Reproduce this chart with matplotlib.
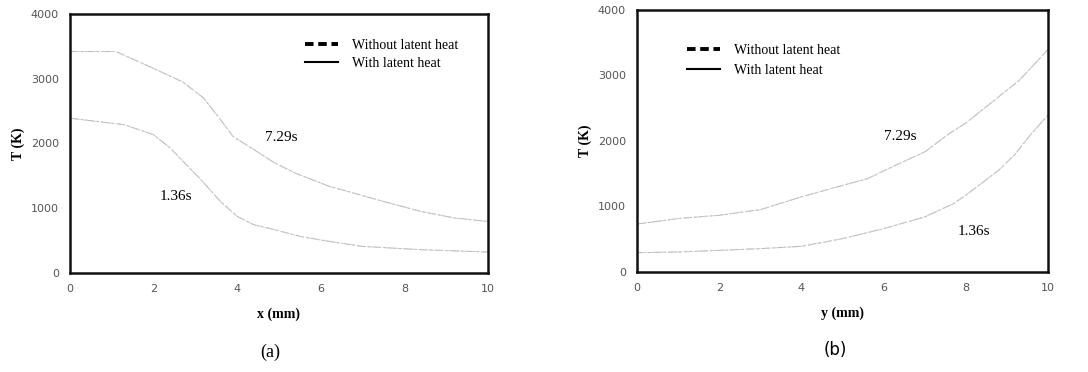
import numpy as np
import matplotlib
matplotlib.use("Agg")
import matplotlib.pyplot as plt
from matplotlib.lines import Line2D

# --- data ---
# (a) temperature along x
xa = [0, 1.1, 2.0, 2.7, 3.2, 3.6, 3.9, 4.9, 5.4, 6.2, 7.5, 8.4, 9.2, 10]
Ta_729 = [3420, 3420, 3160, 2950, 2700, 2370, 2110, 1700, 1540, 1340, 1105, 950, 850, 795]
xa2 = [0, 1.3, 2.0, 2.4, 2.9, 3.1, 3.6, 4.0, 4.4, 4.9, 5.5, 6.2, 7.0, 8.4, 10]
Ta_136 = [2390, 2290, 2135, 1930, 1595, 1465, 1105, 875, 745, 668, 566, 488, 411, 360, 324]

# (b) temperature along y
yb = [0, 1, 2, 3, 4, 5, 5.6, 6.2, 7, 7.6, 8, 9, 9.3, 10]
Tb_729 = [730, 815, 865, 950, 1145, 1320, 1420, 1600, 1830, 2110, 2270, 2770, 2920, 3390]
yb2 = [0, 1, 2, 3, 4, 5, 6, 7, 7.7, 8, 8.8, 9.2, 9.6, 10]
Tb_136 = [295, 305, 330, 356, 391, 508, 661, 839, 1042, 1170, 1550, 1795, 2110, 2390]

series_labels = ["Without latent heat", "With latent heat"]
xticks = [0, 2, 4, 6, 8, 10]
yticks = [0, 1000, 2000, 3000, 4000]

serif = "Liberation Serif"
curve_col = "#b4b4b4"

fig = plt.figure(figsize=(10.88, 3.72), dpi=100)
axa = fig.add_axes([0.0643, 0.2661, 0.3842, 0.6963])
axb = fig.add_axes([0.5855, 0.2688, 0.3777, 0.7056])


def draw(ax, x1, T1, x2, T2):
    for x, T in ((x1, T1), (x2, T2)):
        # the two cases lie on top of each other in the scan
        ax.plot(x, T, color=curve_col, lw=0.7, ls=(0, (9, 2, 3, 2)))
        ax.plot(x, T, color="#cfcfcf", lw=0.7, ls=(4, (5, 4)))
    ax.set_xlim(0, 10)
    ax.set_ylim(0, 4000)
    ax.set_xticks(xticks)
    ax.set_yticks(yticks)
    ax.tick_params(length=0, pad=8, labelsize=8, labelcolor="#555555")
    for sp in ax.spines.values():
        sp.set_linewidth(1.8)
        sp.set_color("#111111")
    ax.set_ylabel("T (K)", family=serif, fontsize=10, fontweight="bold", labelpad=4)


draw(axa, xa, Ta_729, xa2, Ta_136)
draw(axb, yb, Tb_729, yb2, Tb_136)

axa.set_xlabel("x (mm)", family=serif, fontsize=10, fontweight="bold", labelpad=10)
axb.set_xlabel("y (mm)", family=serif, fontsize=10, fontweight="bold", labelpad=10)

axa.text(5.05, 2100, "7.29s", family=serif, fontsize=11, ha="center", va="center")
axa.text(2.53, 1180, "1.36s", family=serif, fontsize=11, ha="center", va="center")
axb.text(6.4, 2070, "7.29s", family=serif, fontsize=11, ha="center", va="center")
axb.text(8.2, 620, "1.36s", family=serif, fontsize=11, ha="center", va="center")

handles = [Line2D([], [], color="black", lw=2.8, ls=(0, (2.2, 1.2))),
           Line2D([], [], color="black", lw=1.5, ls="-")]
for ax, anchor, sp in ((axa, (0.545, 0.93), 0.35), (axb, (0.105, 0.895), 0.5)):
    ax.legend(handles, series_labels, loc="upper left", bbox_to_anchor=anchor,
              frameon=False, borderpad=0, handlelength=2.4, handletextpad=1.0,
              labelspacing=sp, prop={"family": serif, "size": 10})

fig.text(270 / 1088, 1 - 352 / 372, "(a)", family=serif, fontsize=13, ha="center", va="center")
fig.text(835 / 1088, 1 - 350 / 372, "(b)", family="DejaVu Sans", fontsize=12, ha="center", va="center")

fig.savefig("out.png", dpi=100)
